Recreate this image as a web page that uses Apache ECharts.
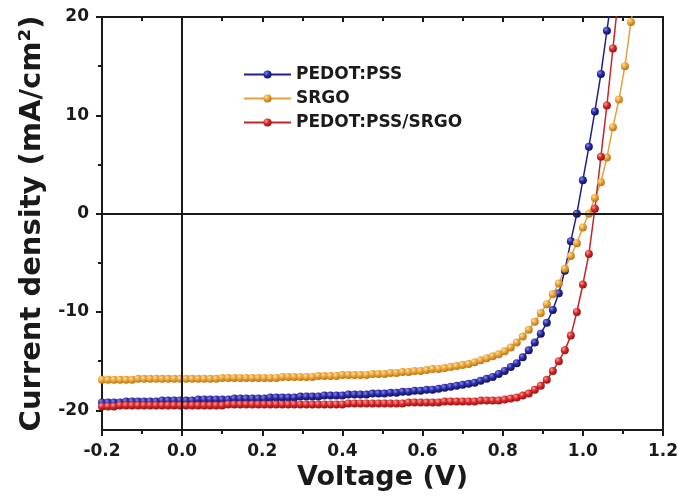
<!DOCTYPE html>
<html>
<head>
<meta charset="utf-8">
<script src="https://cdn.jsdelivr.net/npm/echarts@6/dist/echarts.min.js"></script>
<style>
  html, body { margin: 0; padding: 0; background: #fff; }
  #chart { width: 678px; height: 497px; }
</style>
</head>
<body>
<div id="chart"></div>
<script>
// bias voltage (V), shared by the three J-V sweeps
const voltage = [
  -0.2, -0.185, -0.17, -0.155, -0.14, -0.125, -0.11, -0.095, -0.08, -0.065,
  -0.05, -0.035, -0.02, -0.005, 0.01, 0.025, 0.04, 0.055, 0.07, 0.085,
  0.1, 0.115, 0.13, 0.145, 0.16, 0.175, 0.19, 0.205, 0.22, 0.235,
  0.25, 0.265, 0.28, 0.295, 0.31, 0.325, 0.34, 0.355, 0.37, 0.385,
  0.4, 0.415, 0.43, 0.445, 0.46, 0.475, 0.49, 0.505, 0.52, 0.535,
  0.55, 0.565, 0.58, 0.595, 0.61, 0.625, 0.64, 0.655, 0.67, 0.685,
  0.7, 0.715, 0.73, 0.745, 0.76, 0.775, 0.79, 0.805, 0.82, 0.835,
  0.85, 0.865, 0.88, 0.895, 0.91, 0.925, 0.94, 0.955, 0.97, 0.985,
  1.0, 1.015, 1.03, 1.045, 1.06, 1.075, 1.09, 1.105, 1.12, 1.135
]

// current density (mA/cm2)
const pedotPss = [
  -19.2, -19.2, -19.2, -19.2, -19.1, -19.1, -19.1, -19.1, -19.1, -19.1,
  -19.0, -19.0, -19.0, -19.0, -19.0, -19.0, -18.9, -18.9, -18.9, -18.9,
  -18.9, -18.9, -18.8, -18.8, -18.8, -18.8, -18.8, -18.8, -18.7, -18.7,
  -18.7, -18.7, -18.7, -18.6, -18.6, -18.6, -18.6, -18.5, -18.5, -18.5,
  -18.5, -18.4, -18.4, -18.4, -18.4, -18.3, -18.3, -18.3, -18.2, -18.2,
  -18.1, -18.1, -18.0, -18.0, -17.9, -17.9, -17.8, -17.7, -17.6, -17.5,
  -17.4, -17.3, -17.2, -17.0, -16.8, -16.6, -16.3, -16.0, -15.6, -15.2,
  -14.6, -13.9, -13.1, -12.2, -11.1, -9.8, -8.1, -5.8, -2.8, 0.0,
  3.4, 6.8, 10.4, 14.2, 18.6, 23.0
]

const srgo = [
  -16.9, -16.9, -16.9, -16.9, -16.9, -16.9, -16.8, -16.8, -16.8, -16.8,
  -16.8, -16.8, -16.8, -16.8, -16.8, -16.8, -16.8, -16.8, -16.8, -16.8,
  -16.7, -16.7, -16.7, -16.7, -16.7, -16.7, -16.7, -16.7, -16.7, -16.7,
  -16.6, -16.6, -16.6, -16.6, -16.6, -16.6, -16.5, -16.5, -16.5, -16.5,
  -16.4, -16.4, -16.4, -16.4, -16.4, -16.3, -16.3, -16.3, -16.2, -16.2,
  -16.1, -16.1, -16.0, -16.0, -15.9, -15.8, -15.8, -15.7, -15.6, -15.5,
  -15.4, -15.3, -15.1, -14.9, -14.7, -14.5, -14.3, -14.0, -13.6, -13.1,
  -12.5, -11.8, -11.0, -10.1, -9.2, -8.2, -7.1, -5.6, -4.3, -3.0,
  -1.4, 0.0, 1.6, 3.2, 5.7, 8.8, 11.6, 15.0, 19.5, 23.0
]

const pedotPssSrgo = [
  -19.6, -19.6, -19.6, -19.5, -19.5, -19.5, -19.5, -19.5, -19.5, -19.5,
  -19.5, -19.5, -19.5, -19.5, -19.5, -19.5, -19.5, -19.5, -19.5, -19.5,
  -19.5, -19.4, -19.4, -19.4, -19.4, -19.4, -19.4, -19.4, -19.4, -19.4,
  -19.4, -19.4, -19.4, -19.4, -19.4, -19.4, -19.4, -19.4, -19.4, -19.4,
  -19.4, -19.3, -19.3, -19.3, -19.3, -19.3, -19.3, -19.3, -19.3, -19.3,
  -19.3, -19.2, -19.2, -19.2, -19.2, -19.2, -19.2, -19.1, -19.1, -19.1,
  -19.1, -19.1, -19.1, -19.0, -19.0, -19.0, -19.0, -18.9, -18.8, -18.7,
  -18.5, -18.3, -17.9, -17.5, -16.9, -16.0, -15.0, -13.9, -12.4, -10.0,
  -7.2, -4.1, 0.5, 5.8, 11.0, 16.8, 22.5
]

const seriesNames = ['PEDOT:PSS', 'SRGO', 'PEDOT:PSS/SRGO']
const yMajorTicks = [-20, -10, 0, 10, 20]
const yMinorTicks = [-15, -5, 5, 15]

const FONT = 'DejaVu Sans'
const INK = '#1a1a1a'

function pairs(values) {
  return values.map((j, i) => [voltage[i], j])
}

function ball(light, mid, dark) {
  return new echarts.graphic.RadialGradient(0.35, 0.32, 0.75, [
    { offset: 0, color: light },
    { offset: 0.45, color: mid },
    { offset: 1, color: dark }
  ])
}

function jvSeries(name, values, lineColor, marker, extra) {
  return Object.assign({
    name: name,
    type: 'line',
    data: pairs(values),
    symbol: 'circle',
    symbolSize: 8,
    showSymbol: true,
    clip: true,
    lineStyle: { width: 1.5, color: lineColor },
    itemStyle: { color: marker, borderWidth: 0 },
    emphasis: { disabled: true }
  }, extra || {})
}

const chart = echarts.init(document.getElementById('chart'), null, { renderer: 'canvas' })

// onZero off, so every axis line stays on the frame
const axisLine = { show: true, onZero: false, lineStyle: { color: INK, width: 2 } }
const tickLabel = { color: INK, fontFamily: FONT, fontWeight: 'bold', fontSize: 17 }

chart.setOption({
  animation: false,
  backgroundColor: '#fff',
  grid: { left: 102, right: 15, top: 17, bottom: 67, outerBoundsMode: 'none' },
  legend: {
    orient: 'vertical',
    left: 238,
    top: 61,
    itemWidth: 47,
    itemHeight: 10,
    itemGap: 7,
    data: seriesNames,
    textStyle: { color: INK, fontFamily: FONT, fontWeight: 'bold', fontSize: 17 }
  },
  xAxis: [
    {
      type: 'value',
      position: 'bottom',
      min: -0.2,
      max: 1.2,
      interval: 0.2,
      name: 'Voltage (V)',
      nameLocation: 'middle',
      nameGap: 29,
      nameTextStyle: { color: INK, fontFamily: FONT, fontWeight: 'bold', fontSize: 27 },
      axisLine: axisLine,
      axisTick: { show: true, inside: false, length: 6, lineStyle: { color: INK, width: 2 } },
      minorTick: { show: true, splitNumber: 2, length: 4, lineStyle: { color: INK, width: 2 } },
      axisLabel: Object.assign({ margin: 13, formatter: (v) => v.toFixed(1) }, tickLabel),
      splitLine: { show: false }
    },
    {
      type: 'value',
      position: 'top',
      min: -0.2,
      max: 1.2,
      interval: 0.2,
      axisLine: axisLine,
      axisTick: { show: true, inside: true, length: 5, lineStyle: { color: INK, width: 2 } },
      minorTick: { show: true, splitNumber: 2, length: 4, lineStyle: { color: INK, width: 2 } },
      axisLabel: { show: false },
      splitLine: { show: false }
    }
  ],
  yAxis: [
    {
      type: 'value',
      position: 'left',
      min: -22,
      max: 20,
      name: 'Current density (mA/cm²)',
      nameLocation: 'middle',
      nameGap: 55,
      nameTextStyle: { color: INK, fontFamily: FONT, fontWeight: 'bold', fontSize: 29 },
      axisLine: axisLine,
      axisTick: { show: true, inside: false, length: 6, customValues: yMajorTicks, lineStyle: { color: INK, width: 2 } },
      axisLabel: Object.assign({ margin: 13, customValues: yMajorTicks }, tickLabel),
      splitLine: { show: false }
    },
    {
      type: 'value',
      position: 'right',
      min: -22,
      max: 20,
      axisLine: axisLine,
      axisTick: { show: false },
      axisLabel: { show: false },
      splitLine: { show: false }
    },
    {
      type: 'value',
      position: 'left',
      min: -22,
      max: 20,
      axisLine: { show: false, onZero: false },
      axisTick: { show: true, inside: false, length: 4, customValues: yMinorTicks, lineStyle: { color: INK, width: 2 } },
      axisLabel: { show: false },
      splitLine: { show: false }
    }
  ],
  series: [
    jvSeries('PEDOT:PSS', pedotPss, '#1f1f86', ball('#8888e8', '#2a2aa8', '#0c0c55'), {
      markLine: {
        silent: true,
        symbol: ['none', 'none'],
        label: { show: false },
        lineStyle: { color: INK, width: 2, type: 'solid' },
        data: [{ xAxis: 0 }, { yAxis: 0 }]
      }
    }),
    jvSeries('SRGO', srgo, '#e0a23a', ball('#fde0a0', '#eba235', '#b06e14')),
    jvSeries('PEDOT:PSS/SRGO', pedotPssSrgo, '#c0262a', ball('#f7a0a0', '#db2828', '#861010'))
  ]
})
</script>
</body>
</html>
